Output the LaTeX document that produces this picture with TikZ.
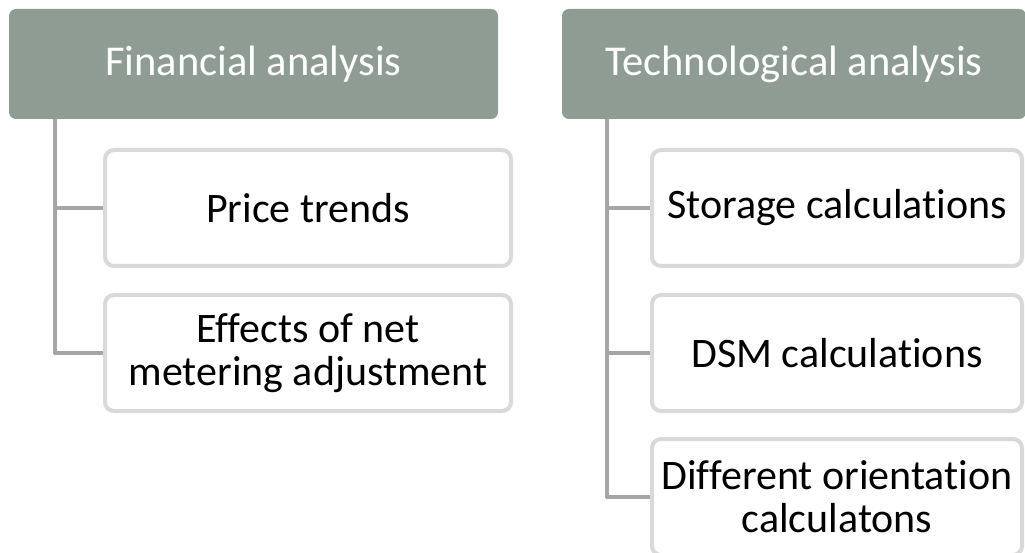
\documentclass[tikz,border=0pt]{standalone}
\usepackage{fontspec}
\setmainfont{Carlito}[Ligatures={NoCommon,NoContextual}, RawFeature={-liga;-clig;-calt;-dlig}]
\definecolor{headfill}{RGB}{142,156,148}
\definecolor{boxline}{RGB}{217,217,217}
\definecolor{linkgrey}{RGB}{166,166,166}
\tikzset{
  head/.style={draw=none, fill=headfill, rounded corners=7pt, text=white,
    minimum width=#1, minimum height=110pt, inner sep=0pt,
    font=\fontsize{42.5}{50}\selectfont},
  item/.style={draw=boxline, line width=4pt, fill=white, rounded corners=9pt,
    minimum width=#1, minimum height=116pt, inner sep=0pt, align=center,
    font=\fontsize{42}{43}\selectfont},
  link/.style={draw=linkgrey, line width=4pt, line join=round}
}
\begin{document}
\begin{tikzpicture}[x=1pt, y=-1pt]
\useasboundingbox (0,0) rectangle (1025,553);
\clip (0,0) rectangle (1025,553);

% group headers
\node[head=489pt] (fin) at (253.5,64) {Financial analysis};
\node[head=464pt] (tech) at (794,64) {Technological analysis};

% connector trunks
\coordinate (finroot) at (55,119);
\coordinate (techroot) at (607,119);

% financial items
\node[item=406pt] (price) at (308,208) {Price trends};
\node[item=406pt] (net) at (308,353) {Effects of net\\metering adjustment};

% technological items
\node[item=370pt] (stor) at (837,208) {Storage calculations};
\node[item=370pt] (dsm) at (837,353) {DSM calculations};
\node[item=370pt] (orient) at (837,497) {Different orientation\\calculatons};

% connectors
\draw[link] (finroot) |- (price.west);
\draw[link] (finroot) |- (net.west);
\draw[link] (techroot) |- (stor.west);
\draw[link] (techroot) |- (dsm.west);
\draw[link] (techroot) |- (orient.west);
\end{tikzpicture}
\end{document}
